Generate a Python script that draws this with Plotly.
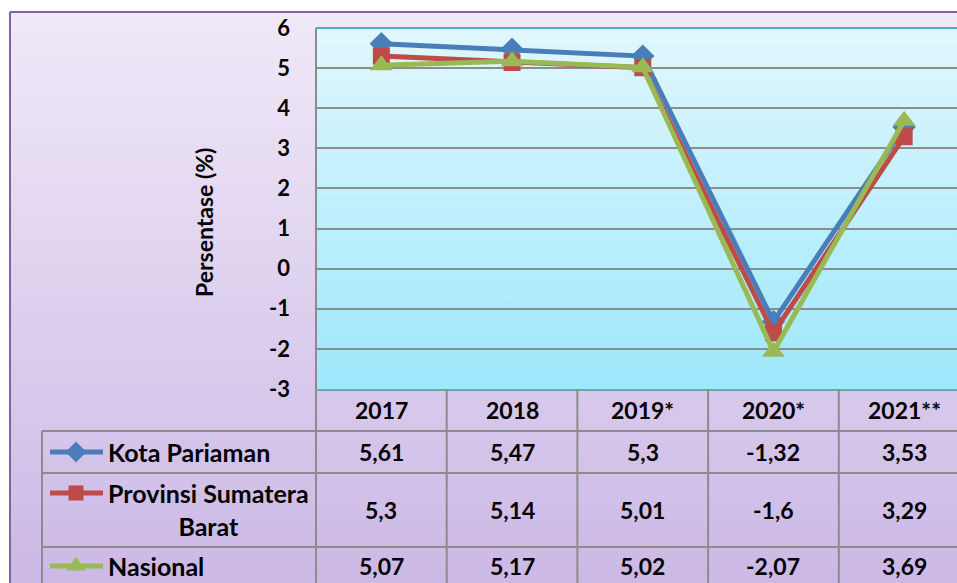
import plotly.graph_objects as go

# data
years = ["2017", "2018", "2019*", "2020*", "2021**"]
kota_pariaman = [5.61, 5.47, 5.3, -1.32, 3.53]
sumbar = [5.3, 5.14, 5.01, -1.6, 3.29]
nasional = [5.07, 5.17, 5.02, -2.07, 3.69]
series_names = ["Kota Pariaman", "Provinsi Sumatera<br>Barat", "Nasional"]
y_ticks = [6, 5, 4, 3, 2, 1, 0, -1, -2, -3]

# layout in pixels
W, H = 957, 583
PLOT_L, PLOT_T, PLOT_B = 316, 28, 389
COL_W = 130.7
ROW_LINES = [431, 473, 547]
ROW_MID = [452, 510, 566]
KEY_Y = [452, 493, 566]
HEAD_MID = 410
TABLE_L = 42

colors = ["#4A7EBB", "#BE4B48", "#98B954"]
symbols = ["diamond", "square", "triangle-up"]
msizes = [18, 17, 20]
FONT = "Lato"

fig = go.Figure()

# background subplot (pixel coords)
fig.add_trace(go.Scatter(
    x=[10, 962, 962, 10, 10], y=[12, 12, 590, 590, 12], mode="lines",
    fill="toself", line=dict(width=0),
    fillgradient=dict(type="vertical", colorscale=[[0, "#CBB8E5"], [1, "#F0E9F8"]]),
    hoverinfo="skip", showlegend=False, xaxis="x", yaxis="y"))
fig.add_trace(go.Scatter(
    x=[PLOT_L, 962, 962, PLOT_L, PLOT_L], y=[PLOT_T, PLOT_T, PLOT_B, PLOT_B, PLOT_T], mode="lines",
    fill="toself", line=dict(width=0),
    fillgradient=dict(type="vertical", colorscale=[[0, "#9DE8FB"], [1, "#E1F7FD"]]),
    hoverinfo="skip", showlegend=False, xaxis="x", yaxis="y"))

# legend keys in the table
for i in range(3):
    fig.add_trace(go.Scatter(
        x=[50, 76, 103], y=[KEY_Y[i]] * 3, mode="lines",
        line=dict(color=colors[i], width=5), hoverinfo="skip", showlegend=False,
        xaxis="x", yaxis="y"))
    fig.add_trace(go.Scatter(
        x=[76], y=[KEY_Y[i]], mode="markers",
        marker=dict(symbol=symbols[i], size=msizes[i] - 2, color=colors[i]),
        hoverinfo="skip", showlegend=False, xaxis="x", yaxis="y"))

# data lines
for vals, c, s, ms, nm in zip([kota_pariaman, sumbar, nasional], colors, symbols, msizes, series_names):
    fig.add_trace(go.Scatter(
        x=list(range(len(years))), y=vals, mode="lines+markers", name=nm,
        line=dict(color=c, width=5), marker=dict(symbol=s, size=ms, color=c),
        cliponaxis=False, showlegend=False, xaxis="x2", yaxis="y2"))

shapes = []
grey = "#8C8C8C"
# chart area border
shapes.append(dict(type="line", xref="x", yref="y", x0=10, x1=10, y0=12, y1=590,
                   line=dict(color="#8064A2", width=2)))
shapes.append(dict(type="line", xref="x", yref="y", x0=10, x1=962, y0=12, y1=12,
                   line=dict(color="#8064A2", width=2)))
# plot area borders
shapes.append(dict(type="line", xref="x", yref="y", x0=PLOT_L, x1=962, y0=PLOT_T, y1=PLOT_T,
                   line=dict(color="#4BACC6", width=2)))
shapes.append(dict(type="line", xref="x", yref="y", x0=PLOT_L, x1=PLOT_L, y0=PLOT_T, y1=590,
                   line=dict(color=grey, width=2)))
shapes.append(dict(type="line", xref="x", yref="y", x0=PLOT_L, x1=962, y0=PLOT_B + 1, y1=PLOT_B + 1,
                   line=dict(color="#7F9FAF", width=2)))
# table lines
for yl in ROW_LINES:
    shapes.append(dict(type="line", xref="x", yref="y", x0=TABLE_L, x1=962, y0=yl, y1=yl,
                       line=dict(color=grey, width=2)))
shapes.append(dict(type="line", xref="x", yref="y", x0=TABLE_L, x1=TABLE_L, y0=ROW_LINES[0], y1=590,
                   line=dict(color=grey, width=2)))
for k in range(1, len(years)):
    xl = PLOT_L + k * COL_W
    shapes.append(dict(type="line", xref="x", yref="y", x0=xl, x1=xl, y0=PLOT_B, y1=590,
                       line=dict(color=grey, width=2)))

annotations = []
tfont = dict(family=FONT, size=23, color="black", weight="bold")
lfont = dict(family=FONT, size=25, color="black", weight="bold")
for i, yr in enumerate(years):
    annotations.append(dict(x=i, y=HEAD_MID, xref="x2", yref="y", text=yr, showarrow=False,
                            font=tfont, xanchor="center", yanchor="middle"))
for r, vals in enumerate([kota_pariaman, sumbar, nasional]):
    for i, v in enumerate(vals):
        annotations.append(dict(x=i, y=ROW_MID[r], xref="x2", yref="y",
                                text=f"{v:g}".replace(".", ","), showarrow=False,
                                font=tfont, xanchor="center", yanchor="middle"))
    annotations.append(dict(x=106, y=ROW_MID[r] - (1 if r == 1 else 0), xref="x", yref="y",
                            text=series_names[r], showarrow=False, font=lfont,
                            xanchor="left", yanchor="middle", align="center"))
annotations.append(dict(x=204, y=223, xref="x", yref="y", text="Persentase (%)", textangle=-90,
                        showarrow=False, font=dict(family=FONT, size=23, color="black", weight="bold")))

fig.update_layout(
    width=W, height=H,
    margin=dict(l=0, r=0, t=0, b=0, autoexpand=False),
    paper_bgcolor="white", plot_bgcolor="rgba(0,0,0,0)",
    xaxis=dict(domain=[0, 1], range=[0, W], visible=False, fixedrange=True, automargin=False),
    yaxis=dict(domain=[0, 1], range=[H, 0], visible=False, fixedrange=True, automargin=False),
    xaxis2=dict(domain=[PLOT_L / W, 1], range=[-0.5, -0.5 + (W - PLOT_L) / COL_W],
                anchor="y2", showticklabels=False, showgrid=False, zeroline=False,
                automargin=False),
    yaxis2=dict(domain=[1 - PLOT_B / H, 1 - PLOT_T / H], range=[-3, 6], anchor="x2",
                tickvals=y_ticks, ticktext=[str(t) for t in y_ticks],
                showgrid=True, gridcolor=grey, gridwidth=2, zeroline=False,
                ticks="", ticklabelstandoff=25, automargin=False,
                tickfont=dict(family=FONT, size=22, color="black", weight="bold")),
    shapes=shapes, annotations=annotations,
    showlegend=False,
)

fig.write_html("out.html", config={"displayModeBar": False},
               post_script="document.body.style.margin='0';")
